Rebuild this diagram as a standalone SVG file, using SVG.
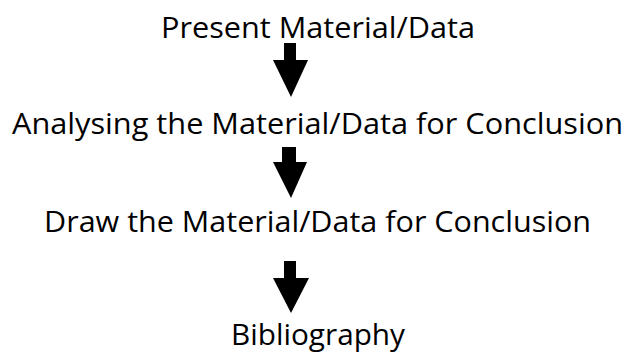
<svg xmlns="http://www.w3.org/2000/svg" width="630" height="353" viewBox="0 0 630 353">
<style>
.lbl{font-family:"Open Sans","DejaVu Sans",sans-serif;font-size:29px;fill:#000;}
.arr{fill:#000;stroke:none;}
</style>
<rect width="630" height="353" fill="#fff"/>
<g id="node-present"><text class="lbl" x="161" y="38" textLength="314" lengthAdjust="spacingAndGlyphs">Present Material/Data</text></g>
<g id="node-analysing"><text class="lbl" x="12" y="134" textLength="611" lengthAdjust="spacingAndGlyphs">Analysing the Material/Data for Conclusion</text></g>
<g id="node-draw"><text class="lbl" x="44" y="232" textLength="547" lengthAdjust="spacingAndGlyphs">Draw the Material/Data for Conclusion</text></g>
<g id="node-bibliography"><text class="lbl" x="231" y="345" textLength="174" lengthAdjust="spacingAndGlyphs">Bibliography</text></g>
<g id="connectors">
<polygon class="arr" points="284,43 296,43 296,60 308,60 291,97 273,60 284,60"/>
<polygon class="arr" points="282,147 296,147 296,162 307,162 291,198 273,162 282,162"/>
<polygon class="arr" points="284,261 296,261 296,278 309,278 291,313 273,278 284,278"/>
</g>
</svg>
